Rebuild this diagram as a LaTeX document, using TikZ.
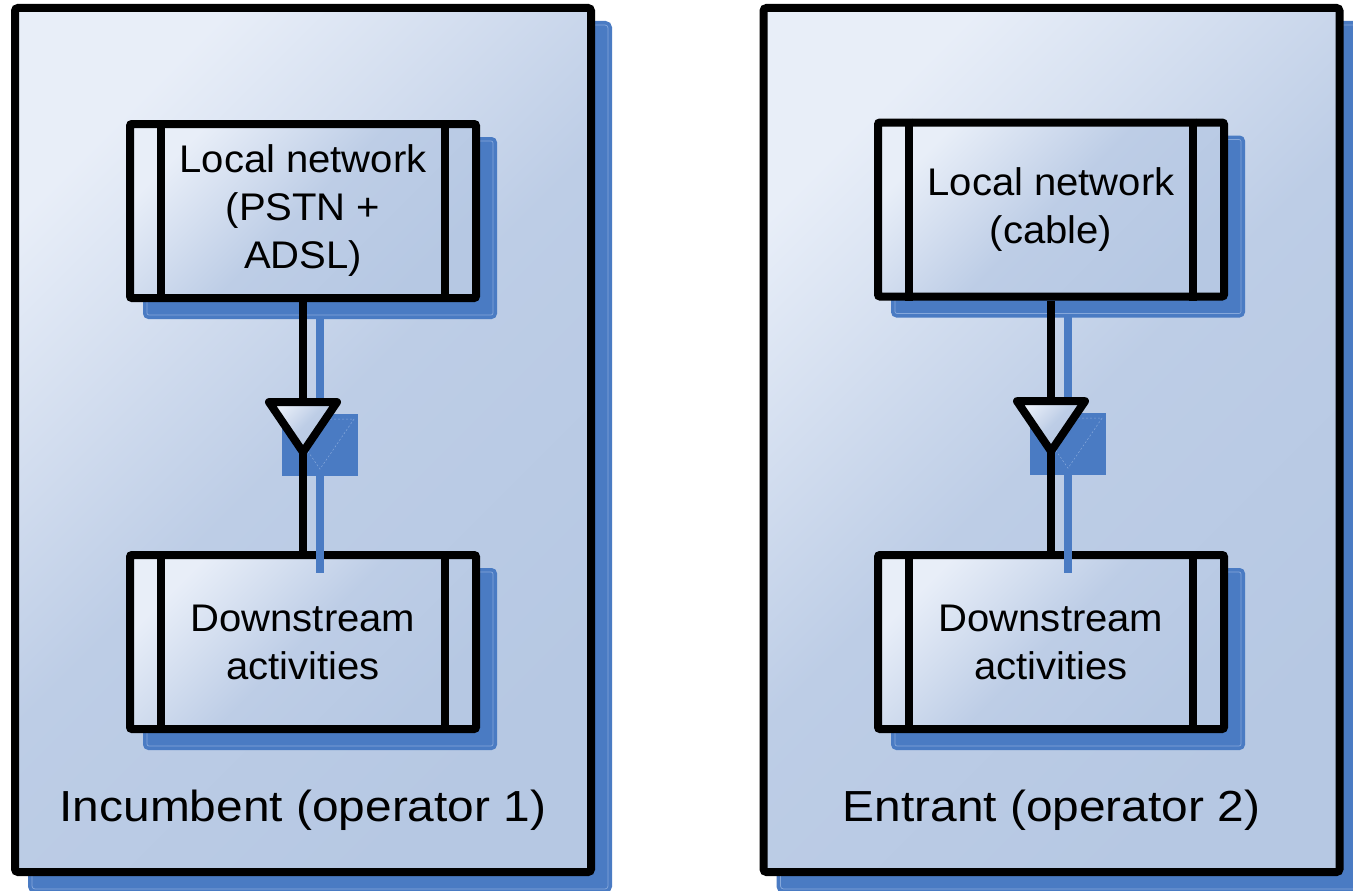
\documentclass[tikz,border=0pt]{standalone}
\usepackage{fontspec}
\setmainfont{Liberation Sans}
\newfontfamily\boxfont[FakeStretch=1.04]{Liberation Sans}
\newfontfamily\titlefont[FakeStretch=1.1]{Liberation Sans}
\usetikzlibrary{shadows,calc}

\definecolor{shadowblue}{HTML}{4A7BC3}
\definecolor{shadowedge}{HTML}{86A8DB}
\definecolor{paleblue}{HTML}{E8EEF8}
\definecolor{midblue}{HTML}{BDCDE6}
\definecolor{deepblue}{HTML}{B6C8E3}

\begin{document}
\begin{tikzpicture}[x=1pt,y=-1pt,
  gradfill/.style={top color=paleblue, bottom color=deepblue, middle color=midblue, shading angle=45},
  boxshadow/.style={
    general shadow={fill=shadowblue, draw=shadowblue, line width=8pt,
      shadow xshift=17pt, shadow yshift=-17pt},
    general shadow={draw=shadowedge, line width=0.7pt,
      shadow xshift=17pt, shadow yshift=-17pt}},
  panel/.style={boxshadow, draw=black, line width=8pt, rounded corners=3pt,
    gradfill, inner sep=0pt, minimum width=576pt, minimum height=864pt},
  unit/.style={boxshadow, draw=black, line width=8pt, rounded corners=2pt,
    gradfill, inner sep=0pt, minimum width=346pt, minimum height=174pt,
    align=center, font=\boxfont\fontsize{38.5}{48}\selectfont},
  sidebar/.style={draw=black, line width=8pt},
  paneltitle/.style={anchor=base, inner sep=0pt, font=\titlefont\fontsize{43.5}{48}\selectfont},
  link/.style={draw=black, line width=8pt},
  linkshadow/.style={draw=shadowblue, line width=8pt},
  valve/.style={draw=black, line width=8pt, line join=round, gradfill},
]
\useasboundingbox (0,0) rectangle (1353,891);
\fill[white] (0,0) rectangle (1353,891);

% the two operator panels
\node[panel] (op1) at (303,440) {};
\node[panel] (op2) at (1051.5,440) {};

% layers inside each operator
\node[unit] (lnet1) at (303,211) {Local network\\(PSTN +\\ADSL)};
\node[unit] (down1) at (303,642) {Downstream\\activities};
\node[unit] (lnet2) at (1051,209.5) {Local network\\(cable)};
\node[unit] (down2) at (1051,642) {Downstream\\activities};

% double side bars of each layer box
\foreach \n in {lnet1,down1,lnet2,down2}{
  \draw[sidebar] ($(\n.north west)+(35,0)$) -- ($(\n.south west)+(35,0)$);
  \draw[sidebar] ($(\n.north east)+(-35,0)$) -- ($(\n.south east)+(-35,0)$);
}

% panel captions
\node[paneltitle] (title1) at (303,821) {Incumbent (operator 1)};
\node[paneltitle] (title2) at (1051.5,821) {Entrant (operator 2)};

% supply links with their valve symbol
\foreach \up/\dn/\v in {lnet1/down1/v1, lnet2/down2/v2}{
  \coordinate (\v) at ($(\up.south)!0.402!(\dn.north)$);
  % shadow layer
  \draw[linkshadow] ($(\up.south)+(17,16)$) -- ($(\dn.north)+(17,22)$);
  \fill[shadowblue] ($(\v)+(-21,12)$) rectangle ($(\v)+(55,74)$);
  \draw[shadowedge, line width=0.5pt, dash pattern=on 2pt off 2pt]
    ($(\v)+(-17,17)$) -- ($(\v)+(51,17)$) -- ($(\v)+(17,67)$) -- cycle;
  % link and valve
  \draw[link] (\up.south) -- (\dn.north);
  \path[valve] ($(\v)+(-34,0)$) -- ($(\v)+(34,0)$) -- ($(\v)+(0,50)$) -- cycle;
}
\end{tikzpicture}
\end{document}
